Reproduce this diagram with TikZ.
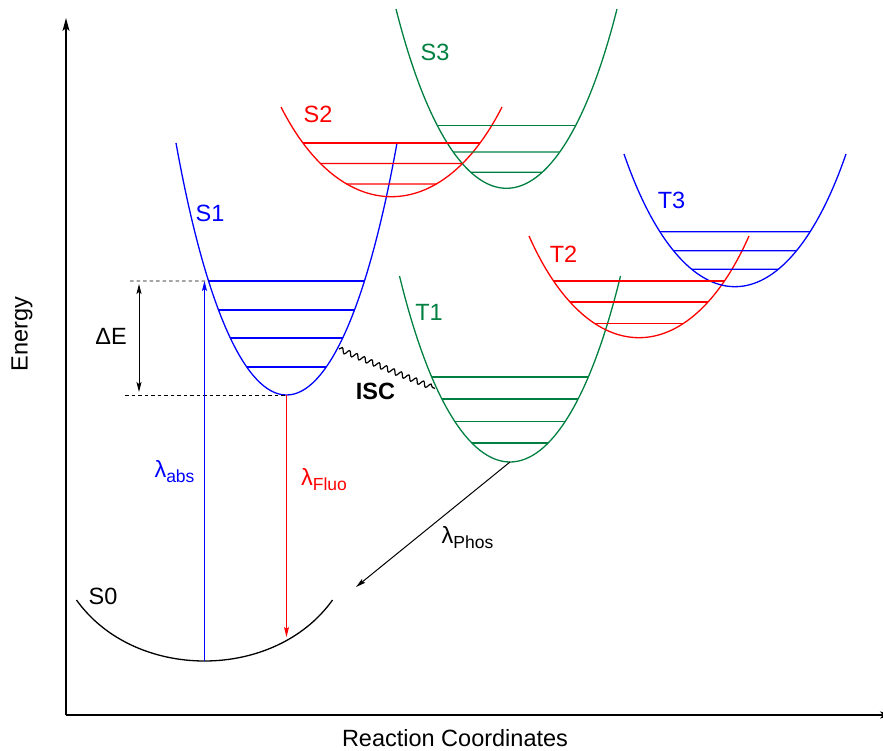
\documentclass[tikz,border=0pt]{standalone}
\usepackage{fontspec}
\setmainfont{Liberation Sans}
\usetikzlibrary{arrows.meta,intersections,decorations.pathmorphing}
\definecolor{cgreen}{RGB}{0,128,64}
\definecolor{cblue}{RGB}{0,0,255}
\definecolor{cred}{RGB}{255,0,0}
\newcommand{\wellcurve}[7]{% color, name, cx, ytop, ymin, half, b
  \path (#3,#5) coordinate (#2min);
  \draw[curve,#1,name path=#2] ({#3-#6},#4) .. controls ({#3-#7},{#5+(#5-#4)/3}) and ({#3+#7},{#5+(#5-#4)/3}) .. ({#3+#6},#4);
}
\newcommand{\levelline}[4]{% color, curve name, y, level name
  \path[name path=#4h] (0,#3) -- (883,#3);
  \draw[lvl,#1,name intersections={of=#2 and #4h, name=#4, sort by=#4h}] (#4-1) -- (#4-2);
}
\newcommand{\subtxt}[1]{\raisebox{-5pt}{\fontsize{17.5}{20}\selectfont #1}}
\begin{document}
\begin{tikzpicture}[x=1pt,y=-1pt,
  curve/.style={line width=1.3pt},
  lvl/.style={line width=1.2pt},
  lbl/.style={font=\fontsize{23.5}{28}\selectfont, inner sep=0pt},
  axis/.style={line width=1.2pt, -{Stealth[length=13pt,width=7pt,inset=3pt]}},
  tr/.style={line width=1pt, -{Stealth[length=10pt,width=5pt,inset=2pt]}},
  dbl/.style={line width=1pt, {Stealth[length=10pt,width=5pt,inset=2pt]}-{Stealth[length=10pt,width=5pt,inset=2pt]}},
  dsh/.style={line width=0.8pt, dash pattern=on 3.5pt off 3pt}
]
\useasboundingbox (0,0) rectangle (883,751);

% axes
\coordinate (origin) at (66,715);
\coordinate (ytip) at (66,18);
\coordinate (xtip) at (893,715);
\draw[axis] (origin) -- (ytip);
\draw[axis] (origin) -- (xtip);
\node[lbl,rotate=90] (ylab) at (22,334) {Energy};
\node[lbl] (xlab) at (455,738) {Reaction Coordinates};

% potential wells
\wellcurve{black}{s0}{204.5}{600}{661}{128}{70}
\wellcurve{cblue}{s1}{286.5}{143}{395}{110.5}{50}
\wellcurve{cred}{s2}{391.5}{107}{196.7}{110.5}{50}
\wellcurve{cgreen}{s3}{506.5}{9}{188.3}{110.5}{50}
\wellcurve{cgreen}{t1}{510}{276}{462}{110.5}{50}
\wellcurve{cred}{t2}{639}{236}{337.7}{110}{50}
\wellcurve{cblue}{t3}{735}{154}{286.7}{111}{50}

% vibrational levels
\levelline{cblue}{s1}{281}{s1a}
\levelline{cblue}{s1}{310}{s1b}
\levelline{cblue}{s1}{338}{s1c}
\levelline{cblue}{s1}{367}{s1d}
\levelline{cred}{s2}{143}{s2a}
\levelline{cred}{s2}{163.5}{s2b}
\levelline{cred}{s2}{184}{s2c}
\levelline{cgreen}{s3}{125.7}{s3a}
\levelline{cgreen}{s3}{152}{s3b}
\levelline{cgreen}{s3}{172.3}{s3c}
\levelline{cgreen}{t1}{377}{t1a}
\levelline{cgreen}{t1}{399}{t1b}
\levelline{cgreen}{t1}{421.7}{t1c}
\levelline{cgreen}{t1}{443}{t1d}
\levelline{cred}{t2}{281}{t2a}
\levelline{cred}{t2}{302}{t2b}
\levelline{cred}{t2}{323.3}{t2c}
\levelline{cblue}{t3}{231.7}{t3a}
\levelline{cblue}{t3}{250.7}{t3b}
\levelline{cblue}{t3}{269.3}{t3c}

% state labels
\node[lbl] (lS0) at (103,596) {S0};
\node[lbl,cblue] (lS1) at (210,213) {S1};
\node[lbl,cred] (lS2) at (318,114.5) {S2};
\node[lbl,cgreen] (lS3) at (435,52.5) {S3};
\node[lbl,cgreen] (lT1) at (429,312) {T1};
\node[lbl,cred] (lT2) at (563.5,254.5) {T2};
\node[lbl,cblue] (lT3) at (671.5,200.5) {T3};

% energy gap
\coordinate (dashA) at (130,281);
\coordinate (dashB) at (125,395);
\draw[dsh] (dashA) -- (s1a-1);
\draw[dsh] (dashB) -- (s1min);
\coordinate (dEtop) at (139,284);
\coordinate (dEbot) at (139,392);
\draw[dbl] (dEtop) -- (dEbot);
\node[lbl] (dE) at (111,336.5) {ΔE};

% transitions
\coordinate (absTip) at (204.5,281);
\draw[tr,cblue] (s0min) -- (absTip);
\node[lbl,cblue] (labs) at (174.5,471.5) {λ\subtxt{abs}};
\coordinate (fluoTip) at (286.5,637);
\draw[tr,cred] (s1min) -- (fluoTip);
\node[lbl,cred] (lfluo) at (324,479.5) {λ\subtxt{Fluo}};
\coordinate (phosTip) at (356,587);
\draw[tr,black] (t1min) -- (phosTip);
\node[lbl] (lphos) at (467.5,537.5) {λ\subtxt{Phos}};

% intersystem crossing
\coordinate (iscA) at (339,349);
\coordinate (iscB) at (435,388.5);
\draw[line width=1.2pt, decorate, decoration={snake, amplitude=2.6pt, segment length=8pt}] (iscA) -- (iscB);
\node[lbl,font=\fontsize{23.5}{28}\selectfont\bfseries] (isc) at (375.5,391) {ISC};
\end{tikzpicture}
\end{document}
